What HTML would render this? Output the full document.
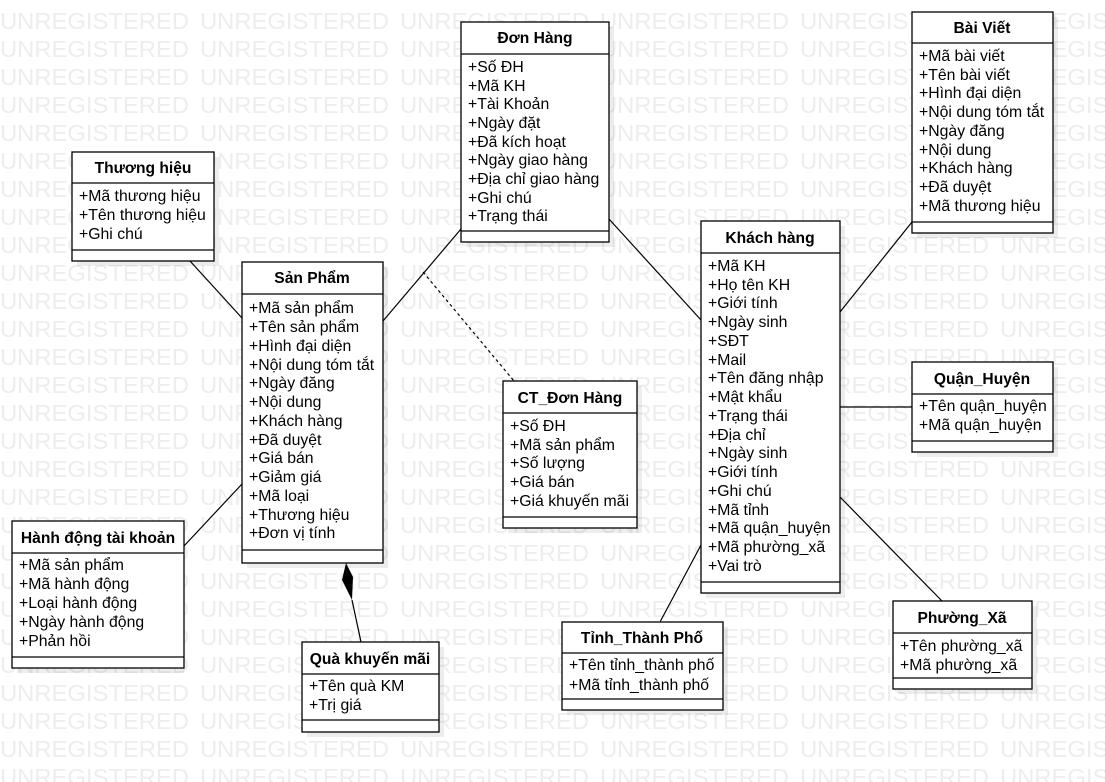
<!DOCTYPE html>
<html><head><meta charset="utf-8">
<style>
html,body{margin:0;padding:0;background:#fff;}
svg{display:block;}
.wm{font-family:"Liberation Sans",sans-serif;font-size:23px;fill:#ededed;}
.h{font-family:"Liberation Sans",sans-serif;font-size:15.6px;font-weight:bold;fill:#000;text-anchor:middle;}
.a{font-family:"Liberation Sans",sans-serif;font-size:15.8px;fill:#000;}
.b{fill:#fff;stroke:#000;stroke-width:1.3;}
.s{fill:#000;opacity:0.07;}
.l{stroke:#000;stroke-width:1.2;fill:none;}
</style></head>
<body>
<svg width="1105" height="782" viewBox="0 0 1105 782" xmlns="http://www.w3.org/2000/svg">
<g id="wm"></g>
<script>
(function(){
var g=document.getElementById('wm');var ns='http://www.w3.org/2000/svg';
for(var r=0;r<28;r++){for(var c=0;c<6;c++){var t=document.createElementNS(ns,'text');
t.setAttribute('x',c*200);t.setAttribute('y',29+r*28);t.setAttribute('class','wm');
t.setAttribute('textLength','189');t.setAttribute('lengthAdjust','spacingAndGlyphs');t.textContent='UNREGISTERED';g.appendChild(t);}}
})();
</script>

<!-- connectors -->
<line class="l" x1="190" y1="261" x2="242" y2="318"/>
<line class="l" x1="383" y1="321" x2="461" y2="229"/>
<line class="l" x1="423" y1="272" x2="514" y2="381" stroke-dasharray="3,3"/>
<line class="l" x1="609" y1="219" x2="701" y2="320"/>
<line class="l" x1="840" y1="312" x2="912" y2="222"/>
<line class="l" x1="840" y1="407" x2="912" y2="407"/>
<line class="l" x1="840" y1="497" x2="942" y2="601"/>
<line class="l" x1="701" y1="545" x2="660" y2="622"/>
<line class="l" x1="242" y1="484" x2="184" y2="546"/>
<line class="l" x1="352" y1="600" x2="361" y2="642"/>
<polygon points="346,563 353,577 352,600 342,580" fill="#000"/>

<!-- Thương hiệu -->
<rect class="s" x="77" y="157" width="142" height="109"/>
<rect class="b" x="72" y="152" width="142" height="109"/>
<line class="l" x1="72" y1="183" x2="214" y2="183"/><line class="l" x1="72" y1="250" x2="214" y2="250"/>
<text class="h" x="143" y="173">Thương hiệu</text>
<text class="a" x="79" y="201">+Mã thương hiệu</text>
<text class="a" x="79" y="220">+Tên thương hiệu</text>
<text class="a" x="79" y="239">+Ghi chú</text>

<!-- Sản Phẩm -->
<rect class="s" x="247" y="267" width="141" height="301"/>
<rect class="b" x="242" y="262" width="141" height="301"/>
<line class="l" x1="242" y1="294" x2="383" y2="294"/><line class="l" x1="242" y1="550" x2="383" y2="550"/>
<text class="h" x="312" y="283">Sản Phẩm</text>
<text class="a" x="249" y="313">+Mã sản phẩm</text>
<text class="a" x="249" y="332">+Tên sản phẩm</text>
<text class="a" x="249" y="351">+Hình đại diện</text>
<text class="a" x="249" y="370">+Nội dung tóm tắt</text>
<text class="a" x="249" y="388">+Ngày đăng</text>
<text class="a" x="249" y="407">+Nội dung</text>
<text class="a" x="249" y="426">+Khách hàng</text>
<text class="a" x="249" y="445">+Đã duyệt</text>
<text class="a" x="249" y="463">+Giá bán</text>
<text class="a" x="249" y="482">+Giảm giá</text>
<text class="a" x="249" y="501">+Mã loại</text>
<text class="a" x="249" y="520">+Thương hiệu</text>
<text class="a" x="249" y="538">+Đơn vị tính</text>

<!-- Đơn Hàng -->
<rect class="s" x="466" y="27" width="148" height="220"/>
<rect class="b" x="461" y="22" width="148" height="220"/>
<line class="l" x1="461" y1="54" x2="609" y2="54"/><line class="l" x1="461" y1="231" x2="609" y2="231"/>
<text class="h" x="535" y="43">Đơn Hàng</text>
<text class="a" x="468" y="72">+Số ĐH</text>
<text class="a" x="468" y="91">+Mã KH</text>
<text class="a" x="468" y="109">+Tài Khoản</text>
<text class="a" x="468" y="128">+Ngày đặt</text>
<text class="a" x="468" y="147">+Đã kích hoạt</text>
<text class="a" x="468" y="165">+Ngày giao hàng</text>
<text class="a" x="468" y="184">+Địa chỉ giao hàng</text>
<text class="a" x="468" y="203">+Ghi chú</text>
<text class="a" x="468" y="221">+Trạng thái</text>

<!-- Bài Viết -->
<rect class="s" x="917" y="17" width="141" height="221"/>
<rect class="b" x="912" y="12" width="141" height="221"/>
<line class="l" x1="912" y1="43" x2="1053" y2="43"/><line class="l" x1="912" y1="222" x2="1053" y2="222"/>
<text class="h" x="982" y="33">Bài Viết</text>
<text class="a" x="919" y="61">+Mã bài viết</text>
<text class="a" x="919" y="80">+Tên bài viết</text>
<text class="a" x="919" y="98">+Hình đại diện</text>
<text class="a" x="919" y="117">+Nội dung tóm tắt</text>
<text class="a" x="919" y="136">+Ngày đăng</text>
<text class="a" x="919" y="155">+Nội dung</text>
<text class="a" x="919" y="173">+Khách hàng</text>
<text class="a" x="919" y="192">+Đã duyệt</text>
<text class="a" x="919" y="211">+Mã thương hiệu</text>

<!-- Khách hàng -->
<rect class="s" x="706" y="226" width="139" height="372"/>
<rect class="b" x="701" y="221" width="139" height="372"/>
<line class="l" x1="701" y1="253" x2="840" y2="253"/><line class="l" x1="701" y1="582" x2="840" y2="582"/>
<text class="h" x="770" y="243">Khách hàng</text>
<text class="a" x="708" y="271">+Mã KH</text>
<text class="a" x="708" y="290">+Họ tên KH</text>
<text class="a" x="708" y="308">+Giới tính</text>
<text class="a" x="708" y="327">+Ngày sinh</text>
<text class="a" x="708" y="346">+SĐT</text>
<text class="a" x="708" y="365">+Mail</text>
<text class="a" x="708" y="383">+Tên đăng nhập</text>
<text class="a" x="708" y="402">+Mật khẩu</text>
<text class="a" x="708" y="421">+Trạng thái</text>
<text class="a" x="708" y="440">+Địa chỉ</text>
<text class="a" x="708" y="458">+Ngày sinh</text>
<text class="a" x="708" y="477">+Giới tính</text>
<text class="a" x="708" y="496">+Ghi chú</text>
<text class="a" x="708" y="515">+Mã tỉnh</text>
<text class="a" x="708" y="533">+Mã quận_huyện</text>
<text class="a" x="708" y="552">+Mã phường_xã</text>
<text class="a" x="708" y="571">+Vai trò</text>

<!-- CT_Đơn Hàng -->
<rect class="s" x="508" y="386" width="134" height="147"/>
<rect class="b" x="503" y="381" width="134" height="147"/>
<line class="l" x1="503" y1="413" x2="637" y2="413"/><line class="l" x1="503" y1="517" x2="637" y2="517"/>
<text class="h" x="570" y="403">CT_Đơn Hàng</text>
<text class="a" x="510" y="431">+Số ĐH</text>
<text class="a" x="510" y="450">+Mã sản phẩm</text>
<text class="a" x="510" y="468">+Số lượng</text>
<text class="a" x="510" y="487">+Giá bán</text>
<text class="a" x="510" y="506">+Giá khuyến mãi</text>

<!-- Quận_Huyện -->
<rect class="s" x="917" y="367" width="141" height="90"/>
<rect class="b" x="912" y="362" width="141" height="90"/>
<line class="l" x1="912" y1="394" x2="1053" y2="394"/><line class="l" x1="912" y1="441" x2="1053" y2="441"/>
<text class="h" x="982" y="384">Quận_Huyện</text>
<text class="a" x="919" y="411">+Tên quận_huyện</text>
<text class="a" x="919" y="430">+Mã quận_huyện</text>

<!-- Phường_Xã -->
<rect class="s" x="898" y="606" width="139" height="88"/>
<rect class="b" x="893" y="601" width="139" height="88"/>
<line class="l" x1="893" y1="633" x2="1032" y2="633"/><line class="l" x1="893" y1="678" x2="1032" y2="678"/>
<text class="h" x="962" y="623">Phường_Xã</text>
<text class="a" x="900" y="651">+Tên phường_xã</text>
<text class="a" x="900" y="670">+Mã phường_xã</text>

<!-- Tỉnh_Thành Phố -->
<rect class="s" x="567" y="627" width="161" height="88"/>
<rect class="b" x="562" y="622" width="161" height="88"/>
<line class="l" x1="562" y1="653" x2="723" y2="653"/><line class="l" x1="562" y1="699" x2="723" y2="699"/>
<text class="h" x="642" y="643">Tỉnh_Thành Phố</text>
<text class="a" x="569" y="670">+Tên tỉnh_thành phố</text>
<text class="a" x="569" y="690">+Mã tỉnh_thành phố</text>

<!-- Hành động tài khoản -->
<rect class="s" x="17" y="526" width="167" height="147"/>
<rect class="b" x="12" y="521" width="172" height="147"/>
<line class="l" x1="12" y1="553" x2="184" y2="553"/><line class="l" x1="12" y1="657" x2="184" y2="657"/>
<text class="h" x="98" y="543">Hành động tài khoản</text>
<text class="a" x="19" y="570">+Mã sản phẩm</text>
<text class="a" x="19" y="589">+Mã hành động</text>
<text class="a" x="19" y="608">+Loại hành động</text>
<text class="a" x="19" y="627">+Ngày hành động</text>
<text class="a" x="19" y="646">+Phản hồi</text>

<!-- Quà khuyến mãi -->
<rect class="s" x="307" y="647" width="137" height="90"/>
<rect class="b" x="302" y="642" width="137" height="90"/>
<line class="l" x1="302" y1="674" x2="439" y2="674"/><line class="l" x1="302" y1="720" x2="439" y2="720"/>
<text class="h" x="370" y="664">Quà khuyến mãi</text>
<text class="a" x="309" y="691">+Tên quà KM</text>
<text class="a" x="309" y="710">+Trị giá</text>
</svg>
</body></html>
